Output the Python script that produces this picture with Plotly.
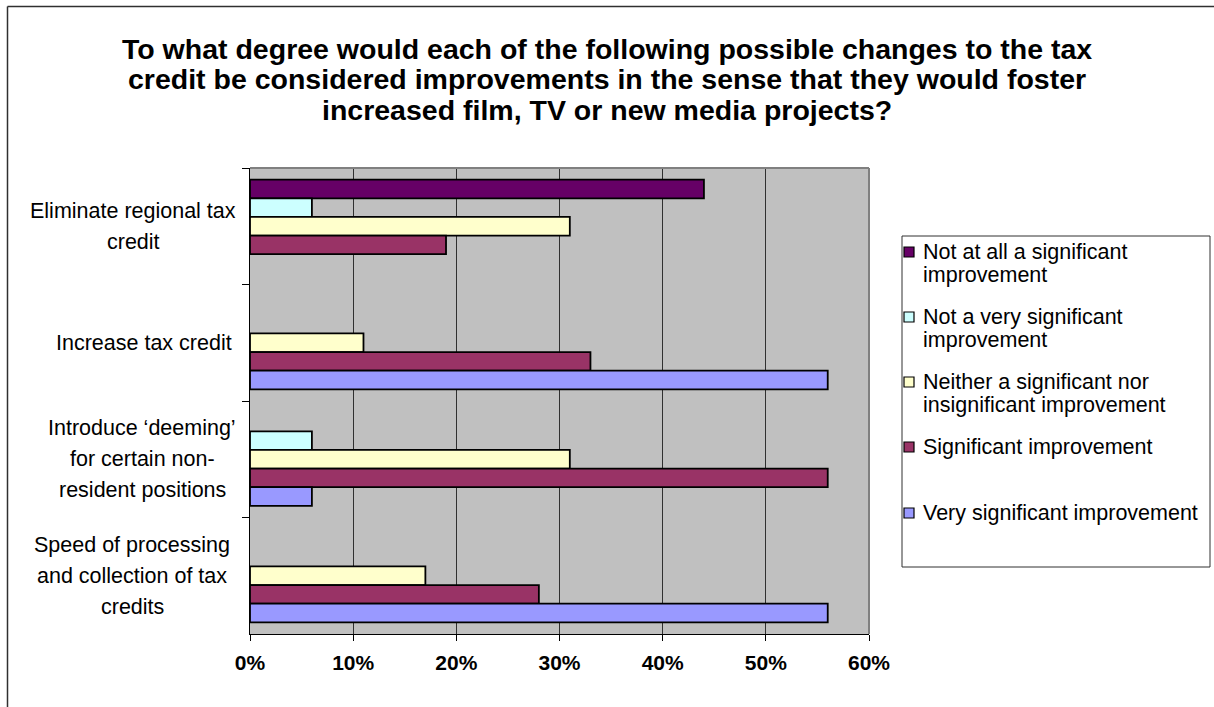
import plotly.graph_objects as go

# ---- data -------------------------------------------------------------
categories = [
    "Eliminate regional tax<br>credit",
    "Increase tax credit",
    "Introduce ‘deeming’<br>for certain non-<br>resident positions",
    "Speed of processing<br>and collection of tax<br>credits",
]

series_names = [
    "Not at all a significant<br>improvement",
    "Not a very significant<br>improvement",
    "Neither a significant nor<br>insignificant improvement",
    "Significant improvement",
    "Very significant improvement",
]

not_at_all = [44, None, None, None]
not_very = [6, None, 6, None]
neither = [31, 11, 31, 17]
significant = [19, 33, 56, 28]
very_significant = [None, 56, 6, 56]

series_values = [not_at_all, not_very, neither, significant, very_significant]
series_colors = ["#660066", "#CCFFFF", "#FFFFCC", "#993366", "#9999FF"]

x_ticks = [0, 10, 20, 30, 40, 50, 60]
x_tick_labels = ["0%", "10%", "20%", "30%", "40%", "50%", "60%"]

title_lines = [
    "To what degree would each of the following possible changes to the tax",
    "credit be considered improvements in the sense that they would foster",
    "increased film, TV or new media projects?",
]

# ---- layout geometry (pixels) ----------------------------------------
W, H = 1214, 707
PL, PR, PT, PB = 250, 869, 168, 634          # plot area edges
PW, PH = PR - PL, PB - PT
FONT = "Liberation Sans, Arial, sans-serif"


def px_x(px):
    return (px - PL) / PW


def px_y(py):
    return (PB - py) / PH


fig = go.Figure()
for name, vals, color in zip(series_names, series_values, series_colors):
    fig.add_trace(go.Bar(
        y=categories,
        x=vals,
        name=name.replace("<br>", " "),
        orientation="h",
        marker=dict(color=color, line=dict(color="black", width=1.8)),
        showlegend=False,
        hoverinfo="x+name",
    ))

annotations = []
shapes = []

# title, one line at a time
for text, yc in zip(title_lines, [49, 79, 110]):
    annotations.append(dict(
        xref="paper", yref="paper", x=px_x(W / 2), y=px_y(yc),
        xanchor="center", yanchor="middle", showarrow=False,
        text=f"<b>{text}</b>",
        font=dict(family=FONT, size=28.5, color="black"),
    ))

# category labels, centred line by line beside each group
label_centres = [133, 144, 142, 132]
for cat, xc in zip(categories, label_centres):
    lines = cat.split("<br>")
    n = len(lines)
    for j, line in enumerate(lines):
        annotations.append(dict(
            xref="paper", yref="y", x=px_x(xc), y=cat,
            xanchor="center", yanchor="middle", showarrow=False,
            yshift=((n - 1) / 2 - j) * 31,
            text=line,
            font=dict(family=FONT, size=21.5, color="black"),
        ))

# legend box with swatches
LX0, LX1, LY0, LY1 = 902, 1210, 236, 567
shapes.append(dict(type="rect", xref="paper", yref="paper",
                   x0=px_x(LX0), x1=px_x(LX1), y0=px_y(LY1), y1=px_y(LY0),
                   line=dict(color="#303030", width=1), fillcolor="white",
                   layer="above"))
item_y = [252, 317, 382, 447, 513]
for name, color, yc in zip(series_names, series_colors, item_y):
    shapes.append(dict(type="rect", xref="paper", yref="paper",
                       x0=px_x(904), x1=px_x(914), y0=px_y(yc + 5), y1=px_y(yc - 5),
                       line=dict(color="black", width=1.2), fillcolor=color,
                       layer="above"))
    for j, line in enumerate(name.split("<br>")):
        annotations.append(dict(
            xref="paper", yref="paper", x=px_x(921), y=px_y(yc + j * 23),
            xanchor="left", yanchor="middle", showarrow=False,
            text=line,
            font=dict(family=FONT, size=21.5, color="black"),
        ))

# plot-area frame (top and right edges)
shapes.append(dict(type="line", xref="paper", yref="paper", x0=0, x1=1, y0=1, y1=1,
                   line=dict(color="#808080", width=2), layer="above"))
shapes.append(dict(type="line", xref="paper", yref="paper", x0=1, x1=1, y0=0, y1=1,
                   line=dict(color="#808080", width=2), layer="above"))

# chart-area border (top and left edges are the ones inside the page)
shapes.append(dict(type="line", xref="paper", yref="paper",
                   x0=px_x(7.5), x1=px_x(1260), y0=px_y(6.5), y1=px_y(6.5),
                   line=dict(color="#303030", width=1.5), layer="above"))
shapes.append(dict(type="line", xref="paper", yref="paper",
                   x0=px_x(7.5), x1=px_x(7.5), y0=px_y(6.5), y1=px_y(760),
                   line=dict(color="#303030", width=1.5), layer="above"))

fig.update_layout(
    width=W, height=H,
    margin=dict(l=PL, r=W - PR, t=PT, b=H - PB, autoexpand=False),
    paper_bgcolor="white",
    plot_bgcolor="#C0C0C0",
    barmode="group",
    bargap=0.2,
    bargroupgap=0,
    showlegend=False,
    annotations=annotations,
    shapes=shapes,
    font=dict(family=FONT, color="black"),
)

fig.update_xaxes(
    range=[0, 60], tickmode="array", tickvals=x_ticks, ticktext=x_tick_labels,
    tickfont=dict(family=FONT, size=21, color="black", weight="bold"),
    ticks="outside", ticklen=6, tickcolor="black", ticklabelstandoff=4,
    showline=True, linecolor="black", linewidth=1,
    showgrid=True, gridcolor="#303030", gridwidth=1,
    zeroline=False, fixedrange=True,
)
fig.update_yaxes(
    type="category", autorange="reversed",
    showticklabels=False,
    ticks="outside", ticklen=7, tickcolor="black", tickson="boundaries",
    showline=True, linecolor="black", linewidth=1,
    showgrid=False, zeroline=False, fixedrange=True,
)

fig.write_html("out.html")
